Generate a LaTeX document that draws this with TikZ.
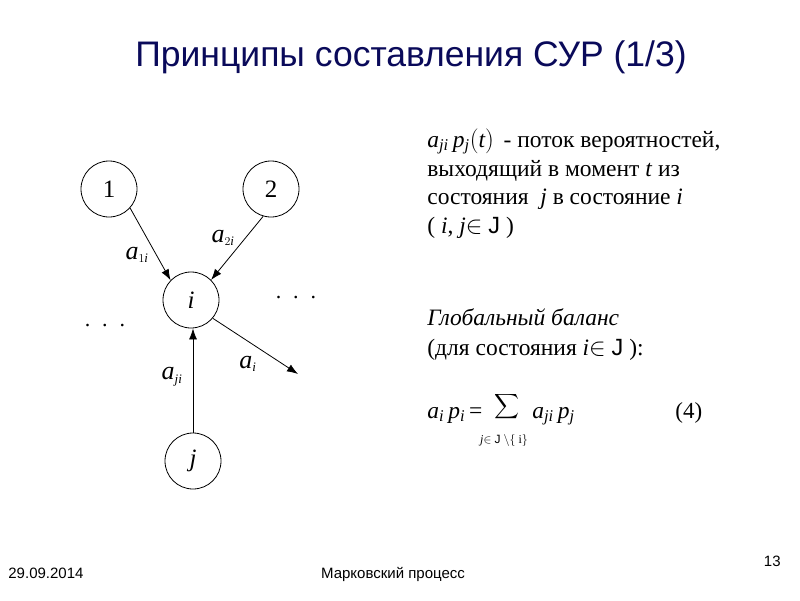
\documentclass[tikz,border=0pt]{standalone}
\usepackage{amsmath}
\usepackage{fontspec}
\setmainfont{Liberation Serif}
\setsansfont{Liberation Sans}
\usetikzlibrary{arrows.meta,calc}
\definecolor{titleblue}{RGB}{10,10,90}
\tikzset{>={Latex[length=11pt,width=8pt]}}
\tikzstyle{state}=[circle,draw=black,line width=0.8pt,minimum size=56pt,inner sep=0pt,font=\fontsize{25}{25}\selectfont]
\tikzstyle{rate}=[inner sep=0pt,font=\fontsize{26}{26}\selectfont]
\tikzstyle{txt}=[anchor=base west,inner sep=0pt,text height=16pt,text depth=5pt,font=\fontsize{23.5}{28}\selectfont]
\tikzstyle{foot}=[inner sep=0pt,font=\sffamily\fontsize{15}{15}\selectfont]

\begin{document}
\begin{tikzpicture}[x=1pt,y=-1pt,line width=0.8pt]
	\useasboundingbox (0,0) rectangle (800,600);
	\fill[white] (0,0) rectangle (800,600);

	% title
	\node[inner sep=0pt,anchor=base,text=titleblue,font=\sffamily\fontsize{35.5}{36}\selectfont] (title) at (411,66) {Принципы составления СУР (1/3)};

	% graph of states
	\node[state] (n1) at (109,189) {1};
	\node[state] (n2) at (271,189) {2};
	\node[state] (ni) at (191,300) {\textit{i}};
	\node[state] (nj) at (193,461) {\textit{j}};
	\coordinate (out) at (298,374);

	\draw[->] (n1.-42) -- (ni.136);
	\draw[->] (n2.-106) -- (ni.45);
	\draw[->] (nj.north) -- (nj.north |- ni.south);
	\draw[->] (ni.-40) -- (out);

	\node[rate] (r1) at (137,255) {$\mathit{a}_{\scriptscriptstyle 1\mathit{i}}$};
	\node[rate] (r2) at (223,238) {$\mathit{a}_{\scriptscriptstyle 2\mathit{i}}$};
	\node[rate] (rj) at (172,377) {$\mathit{a}_{\scriptscriptstyle \mathit{ji}}$};
	\node[rate] (ri) at (248,364) {$\mathit{a}_{\scriptscriptstyle \mathit{i}}$};

	\node[inner sep=0pt,font=\fontsize{22}{22}\selectfont] (dr) at (296,298) {.\hspace{12pt}.\hspace{12pt}.};
	\node[inner sep=0pt,font=\fontsize{22}{22}\selectfont] (dl) at (105,326) {.\hspace{12pt}.\hspace{12pt}.};

	% flow of probability
	\node[txt] (l1) at (427,147) {$\mathit{a}_{\mathit{ji}}\,\mathit{p}_{\mathit{j}}\!\left(\mathit{t}\right)$\, - поток вероятностей,};
	\node[txt] (l2) at (427,176) {выходящий в момент \textit{t} из};
	\node[txt] (l3) at (427,204) {состояния \ \textit{j} в состояние \textit{i}};
	\node[txt] (l4) at (427,233) {( \textit{i}, \textit{j}$\in$ \textsf{J} )};

	% global balance
	\node[txt] (g1) at (427,325) {\textit{Глобальный баланс}};
	\node[txt] (g2) at (427,355) {(для состояния \textit{i}$\in$ \textsf{J} ):};

	\node[txt] (eq) at (427,418) {$\mathit{a}_{\mathit{i}}\,\mathit{p}_{\mathit{i}}$\,=};
	\node[inner sep=0pt,font=\fontsize{17}{17}\selectfont] (sum) at (507,407) {$\displaystyle\sum$};
	\node[inner sep=0pt,font=\fontsize{12}{12}\selectfont] (sub) at (504,440) {\textit{j}$\in$ \textsf{J} $\backslash\{$ i$\}$};
	\node[txt] (eq2) at (532,418) {$\mathit{a}_{\mathit{ji}}\,\mathit{p}_{\mathit{j}}$};
	\node[txt,font=\fontsize{23}{23}\selectfont] (num) at (675,418) {(4)};

	% footer
	\node[foot,anchor=base west] (date) at (8,578) {29.09.2014};
	\node[foot,anchor=base] (name) at (393,578) {Марковский процесс};
	\node[foot,anchor=base east] (page) at (781,566) {13};
\end{tikzpicture}
\end{document}
